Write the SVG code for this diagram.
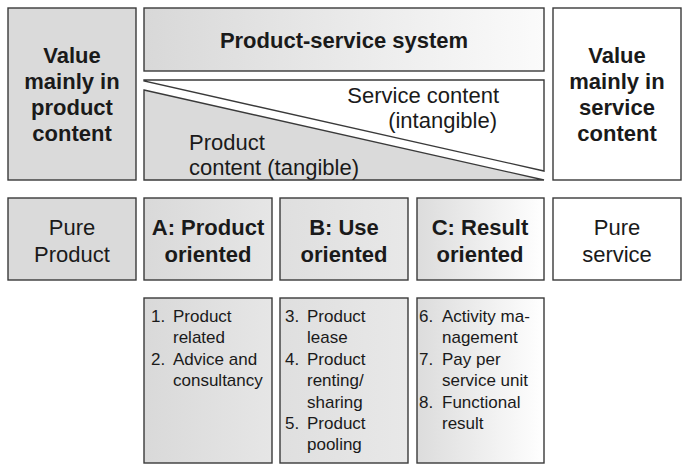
<svg xmlns="http://www.w3.org/2000/svg" width="686" height="468" viewBox="0 0 686 468">
<defs>
<linearGradient id="gHead" x1="0" y1="0" x2="1" y2="0"><stop offset="0" stop-color="#d8d8d8"/><stop offset="1" stop-color="#fbfbfb"/></linearGradient>
<linearGradient id="gA" x1="0" y1="0" x2="1" y2="0"><stop offset="0" stop-color="#d9d9d9"/><stop offset="1" stop-color="#e6e6e6"/></linearGradient>
<linearGradient id="gB" x1="0" y1="0" x2="1" y2="0"><stop offset="0" stop-color="#dfdfdf"/><stop offset="1" stop-color="#e8e8e8"/></linearGradient>
<linearGradient id="gC" x1="0" y1="0" x2="1" y2="0"><stop offset="0" stop-color="#dcdcdc"/><stop offset="1" stop-color="#ffffff"/></linearGradient>
</defs>
<style>
.box{stroke:#3a3a3a;stroke-width:1.4}
.gray{fill:#dadada}
.white{fill:#ffffff}
.b{font-family:"Liberation Sans",Arial,sans-serif;font-weight:bold;font-size:22px;fill:#1a1a1a;text-anchor:middle}
.r{font-family:"Liberation Sans",Arial,sans-serif;font-size:22px;fill:#1a1a1a}
.m{text-anchor:middle}
.l{font-family:"Liberation Sans",Arial,sans-serif;font-size:17px;fill:#1a1a1a}
</style>
<rect width="686" height="468" fill="#ffffff"/>

<g id="value-product">
<rect class="box gray" x="8" y="8" width="128" height="172"/>
<text class="b" x="72" y="63">Value</text>
<text class="b" x="72" y="89">mainly in</text>
<text class="b" x="72" y="115">product</text>
<text class="b" x="72" y="141">content</text>
</g>

<g id="pss-header">
<rect class="box" fill="url(#gHead)" x="144" y="8" width="400" height="63"/>
<text class="b" x="344" y="48">Product-service system</text>
</g>

<g id="service-content">
<polygon class="box white" points="144,80 544,80 544,171 144,81"/>
<text class="r" x="499" y="103" text-anchor="end">Service content</text>
<text class="r" x="497" y="128" text-anchor="end">(intangible)</text>
</g>

<g id="product-content">
<polygon class="box gray" points="144,90 544,180 144,180"/>
<text class="r" x="189" y="150">Product</text>
<text class="r" x="189" y="175">content (tangible)</text>
</g>

<g id="value-service">
<rect class="box white" x="553" y="8" width="128" height="172"/>
<text class="b" x="617" y="63">Value</text>
<text class="b" x="617" y="89">mainly in</text>
<text class="b" x="617" y="115">service</text>
<text class="b" x="617" y="141">content</text>
</g>

<g id="pure-product">
<rect class="box gray" x="8" y="198" width="128" height="82"/>
<text class="r m" x="72" y="235" text-anchor="middle">Pure</text>
<text class="r m" x="72" y="262" text-anchor="middle">Product</text>
</g>

<g id="a-product-oriented">
<rect class="box" fill="url(#gA)" x="144" y="198" width="128" height="82"/>
<text class="b" x="208" y="235">A: Product</text>
<text class="b" x="208" y="262">oriented</text>
</g>

<g id="b-use-oriented">
<rect class="box" fill="url(#gB)" x="280" y="198" width="128" height="82"/>
<text class="b" x="344" y="235">B: Use</text>
<text class="b" x="344" y="262">oriented</text>
</g>

<g id="c-result-oriented">
<rect class="box" fill="url(#gC)" x="417" y="198" width="127" height="82"/>
<text class="b" x="480" y="235">C: Result</text>
<text class="b" x="480" y="262">oriented</text>
</g>

<g id="pure-service">
<rect class="box white" x="553" y="198" width="128" height="82"/>
<text class="r" x="617" y="235" text-anchor="middle">Pure</text>
<text class="r" x="617" y="262" text-anchor="middle">service</text>
</g>

<g id="a-list">
<rect class="box" fill="url(#gA)" x="144" y="298" width="128" height="165"/>
<text class="l" x="151" y="322">1.</text><text class="l" x="173" y="322">Product</text>
<text class="l" x="173" y="343">related</text>
<text class="l" x="151" y="365">2.</text><text class="l" x="173" y="365">Advice and</text>
<text class="l" x="173" y="386">consultancy</text>
</g>

<g id="b-list">
<rect class="box" fill="url(#gB)" x="280" y="298" width="128" height="165"/>
<text class="l" x="285" y="322">3.</text><text class="l" x="307" y="322">Product</text>
<text class="l" x="307" y="343">lease</text>
<text class="l" x="285" y="365">4.</text><text class="l" x="307" y="365">Product</text>
<text class="l" x="307" y="386">renting/</text>
<text class="l" x="307" y="408">sharing</text>
<text class="l" x="285" y="429">5.</text><text class="l" x="307" y="429">Product</text>
<text class="l" x="307" y="450">pooling</text>
</g>

<g id="c-list">
<rect class="box" fill="url(#gC)" x="417" y="298" width="127" height="165"/>
<text class="l" x="419" y="322">6.</text><text class="l" x="442" y="322">Activity ma-</text>
<text class="l" x="442" y="343">nagement</text>
<text class="l" x="419" y="365">7.</text><text class="l" x="442" y="365">Pay per</text>
<text class="l" x="442" y="386">service unit</text>
<text class="l" x="419" y="408">8.</text><text class="l" x="442" y="408">Functional</text>
<text class="l" x="442" y="429">result</text>
</g>

<g id="connectors"></g>
</svg>
